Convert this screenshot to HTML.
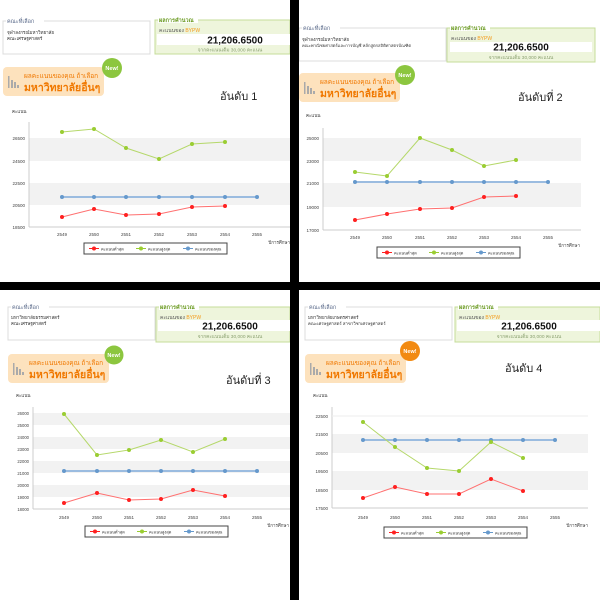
<!DOCTYPE html>
<html><head><meta charset="utf-8"><style>
html,body{margin:0;padding:0;background:#fff;width:600px;height:600px;overflow:hidden}
svg{display:block;font-family:"Liberation Sans","DejaVu Sans",sans-serif}
</style></head><body>
<svg width="600" height="600" viewBox="0 0 600 600" xmlns="http://www.w3.org/2000/svg">
<defs>
<g id="hdr">
  <rect x="0" y="0" width="147" height="33" fill="#fff" stroke="#dcdcdc"/>
  <rect x="3" y="-3" width="38" height="6" fill="#fff"/>
  <text x="4" y="2" font-size="5.5" fill="#5a6a8a">คณะที่เลือก</text>
  <rect x="100" y="-1" width="0" height="0"/>
</g>
<g id="ban">
  <rect x="0" y="0" width="101" height="29" rx="4" fill="#fde2bd"/>
  <rect x="5" y="9" width="1.5" height="12" fill="#aaa"/><rect x="8" y="13" width="2" height="8" fill="#aaa"/><rect x="11" y="15" width="2" height="6" fill="#aaa"/><rect x="14" y="18" width="2" height="3" fill="#aaa"/>
  <text x="21" y="11" font-size="6.5" fill="#f07800">ผลคะแนนของคุณ ถ้าเลือก</text>
  <text x="21" y="24" font-size="10.5" font-weight="bold" fill="#f07800">มหาวิทยาลัยอื่นๆ</text>
</g>
<g id="res">
  <text x="2" y="2" font-size="5.5" font-weight="bold" fill="#6a9a20">ผลการคำนวณ</text>
  <text x="2" y="12" font-size="5" fill="#555">คะแนนของ <tspan fill="#f49a1a">BYPW</tspan></text>
</g>
<g id="leg">
  <rect x="0" y="0" width="143" height="11" fill="#fff" stroke="#444" stroke-width="1"/>
  <line x1="5" y1="5.5" x2="15" y2="5.5" stroke="#ff2020"/><circle cx="10" cy="5.5" r="2" fill="#ff2020"/>
  <text x="17" y="7.5" font-size="4" fill="#333">คะแนนต่ำสุด</text>
  <line x1="52" y1="5.5" x2="62" y2="5.5" stroke="#9acd32"/><circle cx="57" cy="5.5" r="2" fill="#9acd32"/>
  <text x="64" y="7.5" font-size="4" fill="#333">คะแนนสูงสุด</text>
  <line x1="99" y1="5.5" x2="109" y2="5.5" stroke="#6699cc"/><circle cx="104" cy="5.5" r="2" fill="#6699cc"/>
  <text x="111" y="7.5" font-size="4" fill="#333">คะแนนของคุณ</text>
</g>
</defs>

<!-- ===== Panel 1 ===== -->
<use href="#hdr" x="3" y="21"/>
<text x="7" y="34" font-size="4.5" fill="#333">จุฬาลงกรณ์มหาวิทยาลัย</text>
<text x="7" y="40" font-size="4.5" fill="#333">คณะเศรษฐศาสตร์</text>
<rect x="155" y="20" width="135" height="34" fill="#eef5dc" stroke="#c5dd9a"/>
<rect x="158" y="17" width="40" height="6" fill="#fff"/>
<use href="#res" x="157" y="20"/>
<rect x="157" y="34" width="133" height="11" fill="#fff"/>
<text x="235" y="43.5" font-size="10" font-weight="bold" text-anchor="middle" fill="#111">21,206.6500</text>
<text x="230" y="51.5" font-size="4.8" text-anchor="middle" fill="#8aa070">จากคะแนนเต็ม 30,000 คะแนน</text>
<use href="#ban" x="3" y="67"/>
<circle cx="112" cy="68" r="10" fill="#8cc63f"/><text x="112" y="70" font-size="5.5" font-weight="bold" fill="#fff" text-anchor="middle">New!</text>
<text x="220" y="100" font-size="11" fill="#222">อันดับ 1</text>
<text x="12" y="113" font-size="4.5" fill="#333">คะแนน</text>
<rect x="29" y="138" width="261" height="23" fill="#f2f2f2"/>
<rect x="29" y="183" width="261" height="22" fill="#f2f2f2"/>
<line x1="29" y1="122" x2="29" y2="227" stroke="#ccc"/>
<line x1="29" y1="227" x2="290" y2="227" stroke="#ccc"/>
<g font-size="4.5" fill="#444" text-anchor="end">
<text x="25" y="140">26500</text><text x="25" y="163">24500</text><text x="25" y="185">22500</text><text x="25" y="207">20500</text><text x="25" y="229">18500</text></g>
<g font-size="4.5" fill="#444" text-anchor="middle">
<text x="62" y="236">2549</text><text x="94" y="236">2550</text><text x="126" y="236">2551</text><text x="159" y="236">2552</text><text x="192" y="236">2553</text><text x="225" y="236">2554</text><text x="257" y="236">2555</text></g>
<text x="290" y="244" font-size="4.5" fill="#444" text-anchor="end">ปีการศึกษา</text>
<polyline points="62,197 94,197 126,197 159,197 192,197 225,197 257,197" fill="none" stroke="#9bbce0" stroke-width="2"/>
<polyline points="62,132 94,129 126,148 159,159 192,144 225,142" fill="none" stroke="#b5d86a" stroke-width="1"/>
<polyline points="62,217 94,209 126,215 159,214 192,207 225,206" fill="none" stroke="#ff7070" stroke-width="1"/>
<g fill="#6699cc"><circle cx="62" cy="197" r="2"/><circle cx="94" cy="197" r="2"/><circle cx="126" cy="197" r="2"/><circle cx="159" cy="197" r="2"/><circle cx="192" cy="197" r="2"/><circle cx="225" cy="197" r="2"/><circle cx="257" cy="197" r="2"/></g>
<g fill="#9acd32"><circle cx="62" cy="132" r="2"/><circle cx="94" cy="129" r="2"/><circle cx="126" cy="148" r="2"/><circle cx="159" cy="159" r="2"/><circle cx="192" cy="144" r="2"/><circle cx="225" cy="142" r="2"/></g>
<g fill="#ff2020"><circle cx="62" cy="217" r="2"/><circle cx="94" cy="209" r="2"/><circle cx="126" cy="215" r="2"/><circle cx="159" cy="214" r="2"/><circle cx="192" cy="207" r="2"/><circle cx="225" cy="206" r="2"/></g>
<use href="#leg" x="84" y="243"/>

<!-- ===== Panel 2 ===== -->
<use href="#hdr" x="299" y="28"/>
<text x="302" y="41" font-size="4.5" fill="#333">จุฬาลงกรณ์มหาวิทยาลัย</text>
<text x="302" y="47" font-size="4.2" fill="#333">คณะพาณิชยศาสตร์และการบัญชี หลักสูตรสถิติศาสตรบัณฑิต</text>
<rect x="447" y="28" width="148" height="34" fill="#eef5dc" stroke="#c5dd9a"/>
<rect x="450" y="25" width="40" height="6" fill="#fff"/>
<use href="#res" x="449" y="28"/>
<rect x="450" y="42" width="142" height="10" fill="#fff"/>
<text x="521" y="50.5" font-size="10" font-weight="bold" text-anchor="middle" fill="#111">21,206.6500</text>
<text x="521" y="59" font-size="4.8" text-anchor="middle" fill="#8aa070">จากคะแนนเต็ม 30,000 คะแนน</text>
<use href="#ban" x="299" y="73"/>
<circle cx="405" cy="75" r="10" fill="#8cc63f"/><text x="405" y="77" font-size="5.5" font-weight="bold" fill="#fff" text-anchor="middle">New!</text>
<text x="518" y="101" font-size="11" fill="#222">อันดับที่ 2</text>
<text x="306" y="117" font-size="4.5" fill="#333">คะแนน</text>
<rect x="323" y="138" width="258" height="23" fill="#f2f2f2"/>
<rect x="323" y="183" width="258" height="24" fill="#f2f2f2"/>
<line x1="323" y1="128" x2="323" y2="230" stroke="#ccc"/>
<line x1="323" y1="230" x2="581" y2="230" stroke="#ccc"/>
<g font-size="4.5" fill="#444" text-anchor="end">
<text x="319" y="140">25000</text><text x="319" y="163">23000</text><text x="319" y="185">21000</text><text x="319" y="209">19000</text><text x="319" y="232">17000</text></g>
<g font-size="4.5" fill="#444" text-anchor="middle">
<text x="355" y="239">2549</text><text x="387" y="239">2550</text><text x="420" y="239">2551</text><text x="452" y="239">2552</text><text x="484" y="239">2553</text><text x="516" y="239">2554</text><text x="548" y="239">2555</text></g>
<text x="580" y="247" font-size="4.5" fill="#444" text-anchor="end">ปีการศึกษา</text>
<polyline points="355,182 387,182 420,182 452,182 484,182 516,182 548,182" fill="none" stroke="#9bbce0" stroke-width="2"/>
<polyline points="355,172 387,176 420,138 452,150 484,166 516,160" fill="none" stroke="#b5d86a" stroke-width="1"/>
<polyline points="355,220 387,214 420,209 452,208 484,197 516,196" fill="none" stroke="#ff7070" stroke-width="1"/>
<g fill="#6699cc"><circle cx="355" cy="182" r="2"/><circle cx="387" cy="182" r="2"/><circle cx="420" cy="182" r="2"/><circle cx="452" cy="182" r="2"/><circle cx="484" cy="182" r="2"/><circle cx="516" cy="182" r="2"/><circle cx="548" cy="182" r="2"/></g>
<g fill="#9acd32"><circle cx="355" cy="172" r="2"/><circle cx="387" cy="176" r="2"/><circle cx="420" cy="138" r="2"/><circle cx="452" cy="150" r="2"/><circle cx="484" cy="166" r="2"/><circle cx="516" cy="160" r="2"/></g>
<g fill="#ff2020"><circle cx="355" cy="220" r="2"/><circle cx="387" cy="214" r="2"/><circle cx="420" cy="209" r="2"/><circle cx="452" cy="208" r="2"/><circle cx="484" cy="197" r="2"/><circle cx="516" cy="196" r="2"/></g>
<use href="#leg" x="377" y="247"/>

<!-- ===== Panel 3 ===== -->
<use href="#hdr" x="8" y="307"/>
<text x="11" y="319" font-size="4.5" fill="#333">มหาวิทยาลัยธรรมศาสตร์</text>
<text x="11" y="325" font-size="4.5" fill="#333">คณะเศรษฐศาสตร์</text>
<rect x="156" y="307" width="134" height="35" fill="#eef5dc" stroke="#c5dd9a"/>
<rect x="159" y="304" width="40" height="6" fill="#fff"/>
<use href="#res" x="158" y="307"/>
<rect x="158" y="320" width="132" height="11" fill="#fff"/>
<text x="230" y="329.5" font-size="10" font-weight="bold" text-anchor="middle" fill="#111">21,206.6500</text>
<text x="230" y="338" font-size="4.8" text-anchor="middle" fill="#8aa070">จากคะแนนเต็ม 30,000 คะแนน</text>
<use href="#ban" x="8" y="354"/>
<circle cx="114" cy="355" r="9.5" fill="#8cc63f"/><text x="114" y="357" font-size="5.5" font-weight="bold" fill="#fff" text-anchor="middle">New!</text>
<text x="226" y="384" font-size="11" fill="#222">อันดับที่ 3</text>
<text x="16" y="397" font-size="4.5" fill="#333">คะแนน</text>
<rect x="33" y="413" width="257" height="12" fill="#f2f2f2"/>
<rect x="33" y="437" width="257" height="12" fill="#f2f2f2"/>
<rect x="33" y="461" width="257" height="12" fill="#f2f2f2"/>
<rect x="33" y="485" width="257" height="12" fill="#f2f2f2"/>
<line x1="33" y1="407" x2="33" y2="509" stroke="#ccc"/>
<line x1="33" y1="509" x2="290" y2="509" stroke="#ccc"/>
<g font-size="4.2" fill="#444" text-anchor="end">
<text x="29" y="415">26000</text><text x="29" y="427">25000</text><text x="29" y="439">24000</text><text x="29" y="451">23000</text><text x="29" y="463">22000</text><text x="29" y="475">21000</text><text x="29" y="487">20000</text><text x="29" y="499">19000</text><text x="29" y="511">18000</text></g>
<g font-size="4.5" fill="#444" text-anchor="middle">
<text x="64" y="519">2549</text><text x="97" y="519">2550</text><text x="129" y="519">2551</text><text x="161" y="519">2552</text><text x="193" y="519">2553</text><text x="225" y="519">2554</text><text x="257" y="519">2555</text></g>
<text x="289" y="527" font-size="4.5" fill="#444" text-anchor="end">ปีการศึกษา</text>
<polyline points="64,471 97,471 129,471 161,471 193,471 225,471 257,471" fill="none" stroke="#9bbce0" stroke-width="2"/>
<polyline points="64,414 97,455 129,450 161,440 193,452 225,439" fill="none" stroke="#b5d86a" stroke-width="1"/>
<polyline points="64,503 97,493 129,500 161,499 193,490 225,496" fill="none" stroke="#ff7070" stroke-width="1"/>
<g fill="#6699cc"><circle cx="64" cy="471" r="2"/><circle cx="97" cy="471" r="2"/><circle cx="129" cy="471" r="2"/><circle cx="161" cy="471" r="2"/><circle cx="193" cy="471" r="2"/><circle cx="225" cy="471" r="2"/><circle cx="257" cy="471" r="2"/></g>
<g fill="#9acd32"><circle cx="64" cy="414" r="2"/><circle cx="97" cy="455" r="2"/><circle cx="129" cy="450" r="2"/><circle cx="161" cy="440" r="2"/><circle cx="193" cy="452" r="2"/><circle cx="225" cy="439" r="2"/></g>
<g fill="#ff2020"><circle cx="64" cy="503" r="2"/><circle cx="97" cy="493" r="2"/><circle cx="129" cy="500" r="2"/><circle cx="161" cy="499" r="2"/><circle cx="193" cy="490" r="2"/><circle cx="225" cy="496" r="2"/></g>
<use href="#leg" x="85" y="526"/>

<!-- ===== Panel 4 ===== -->
<use href="#hdr" x="305" y="307"/>
<text x="308" y="319" font-size="4.5" fill="#333">มหาวิทยาลัยเกษตรศาสตร์</text>
<text x="308" y="325" font-size="4.3" fill="#333">คณะเศรษฐศาสตร์ สาขาวิชาเศรษฐศาสตร์</text>
<rect x="455" y="307" width="145" height="35" fill="#eef5dc" stroke="#c5dd9a"/>
<rect x="458" y="304" width="40" height="6" fill="#fff"/>
<use href="#res" x="457" y="307"/>
<rect x="457" y="320" width="143" height="11" fill="#fff"/>
<text x="529" y="329.5" font-size="10" font-weight="bold" text-anchor="middle" fill="#111">21,206.6500</text>
<text x="529" y="338" font-size="4.8" text-anchor="middle" fill="#8aa070">จากคะแนนเต็ม 30,000 คะแนน</text>
<use href="#ban" x="305" y="354"/>
<circle cx="410" cy="351" r="10" fill="#f28a12"/><text x="410" y="353" font-size="5.5" font-weight="bold" fill="#fff" text-anchor="middle">New!</text>
<text x="505" y="372" font-size="11" fill="#222">อันดับ 4</text>
<text x="313" y="397" font-size="4.5" fill="#333">คะแนน</text>
<rect x="332" y="434" width="256" height="19" fill="#f2f2f2"/>
<rect x="332" y="471" width="256" height="19" fill="#f2f2f2"/>
<line x1="332" y1="407" x2="332" y2="508" stroke="#ccc"/>
<line x1="332" y1="508" x2="588" y2="508" stroke="#ccc"/>
<line x1="332" y1="416" x2="588" y2="416" stroke="#eee"/>
<g font-size="4.5" fill="#444" text-anchor="end">
<text x="328" y="418">22500</text><text x="328" y="436">21500</text><text x="328" y="455">20500</text><text x="328" y="473">19500</text><text x="328" y="492">18500</text><text x="328" y="510">17500</text></g>
<g font-size="4.5" fill="#444" text-anchor="middle">
<text x="363" y="519">2549</text><text x="395" y="519">2550</text><text x="427" y="519">2551</text><text x="459" y="519">2552</text><text x="491" y="519">2553</text><text x="523" y="519">2554</text><text x="555" y="519">2555</text></g>
<text x="588" y="527" font-size="4.5" fill="#444" text-anchor="end">ปีการศึกษา</text>
<polyline points="363,440 395,440 427,440 459,440 491,440 523,440 555,440" fill="none" stroke="#9bbce0" stroke-width="2"/>
<polyline points="363,422 395,447 427,468 459,471 491,442 523,458" fill="none" stroke="#b5d86a" stroke-width="1"/>
<polyline points="363,498 395,487 427,494 459,494 491,479 523,491" fill="none" stroke="#ff7070" stroke-width="1"/>
<g fill="#6699cc"><circle cx="363" cy="440" r="2"/><circle cx="395" cy="440" r="2"/><circle cx="427" cy="440" r="2"/><circle cx="459" cy="440" r="2"/><circle cx="491" cy="440" r="2"/><circle cx="523" cy="440" r="2"/><circle cx="555" cy="440" r="2"/></g>
<g fill="#9acd32"><circle cx="363" cy="422" r="2"/><circle cx="395" cy="447" r="2"/><circle cx="427" cy="468" r="2"/><circle cx="459" cy="471" r="2"/><circle cx="491" cy="442" r="2"/><circle cx="523" cy="458" r="2"/></g>
<g fill="#ff2020"><circle cx="363" cy="498" r="2"/><circle cx="395" cy="487" r="2"/><circle cx="427" cy="494" r="2"/><circle cx="459" cy="494" r="2"/><circle cx="491" cy="479" r="2"/><circle cx="523" cy="491" r="2"/></g>
<use href="#leg" x="384" y="527"/>

<!-- separators -->
<rect x="290" y="0" width="9" height="600" fill="#000"/>
<rect x="0" y="282" width="600" height="8" fill="#000"/>
</svg>
</body></html>
